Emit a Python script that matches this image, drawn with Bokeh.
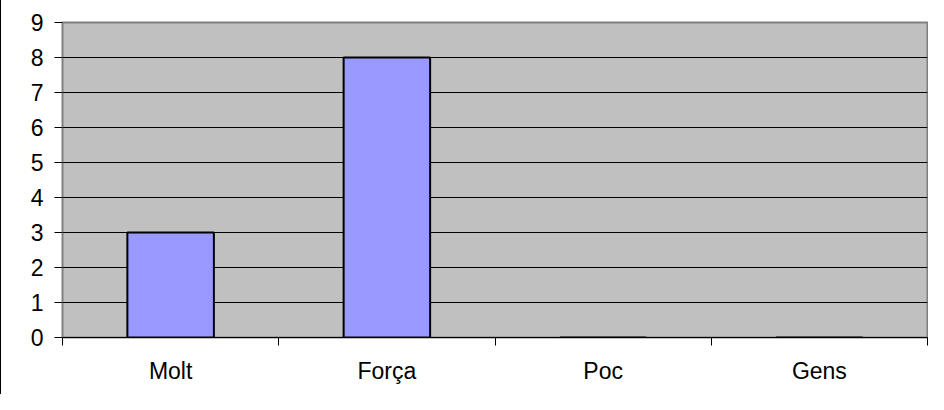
from bokeh.plotting import figure
from bokeh.models import FixedTicker, Range1d
from bokeh.embed import file_html
from bokeh.resources import INLINE

categories = ["Molt", "Força", "Poc", "Gens"]
values = [3, 8, 0, 0]
y_ticks = [0, 1, 2, 3, 4, 5, 6, 7, 8, 9]

x_centers = [i + 0.5 for i in range(len(categories))]
x_bounds = list(range(len(categories) + 1))

p = figure(width=928, height=394, output_backend="svg", toolbar_location=None,
           x_range=Range1d(0, len(categories)), y_range=Range1d(0, 9),
           min_border_left=61, min_border_right=2, min_border_top=22, min_border_bottom=57,
           styles={"border-left": "1px solid black"})

p.background_fill_color = "#C0C0C0"
p.border_fill_color = "white"
p.outline_line_color = "#808080"
p.outline_line_width = 2

p.vbar(x=x_centers, top=values, bottom=0, width=0.4,
       fill_color="#9999FF", line_color="black", line_width=2)

font = "Liberation Sans"

# x axis
xa = p.xaxis[0]
xa.ticker = FixedTicker(ticks=x_centers, minor_ticks=x_bounds)
xa.major_label_overrides = {c: name for c, name in zip(x_centers, categories)}
xa.major_tick_line_color = None
xa.major_tick_out = 0
xa.major_tick_in = 0
xa.minor_tick_line_color = "black"
xa.minor_tick_out = 8
xa.minor_tick_in = 0
xa.axis_line_color = "black"
xa.major_label_text_font = font
xa.major_label_text_font_size = "23px"
xa.major_label_text_color = "black"
xa.major_label_standoff = 12

# y axis
ya = p.yaxis[0]
ya.ticker = FixedTicker(ticks=y_ticks)
ya.major_tick_line_color = "black"
ya.major_tick_out = 8
ya.major_tick_in = 0
ya.minor_tick_line_color = None
ya.axis_line_color = "#808080"
ya.major_label_text_font = font
ya.major_label_text_font_size = "23px"
ya.major_label_text_color = "black"
ya.major_label_standoff = 11

p.xgrid.grid_line_color = None
p.ygrid.ticker = FixedTicker(ticks=y_ticks)
p.ygrid.grid_line_color = "black"
p.ygrid.grid_line_width = 1

open("out.html", "w").write(file_html(p, INLINE))
